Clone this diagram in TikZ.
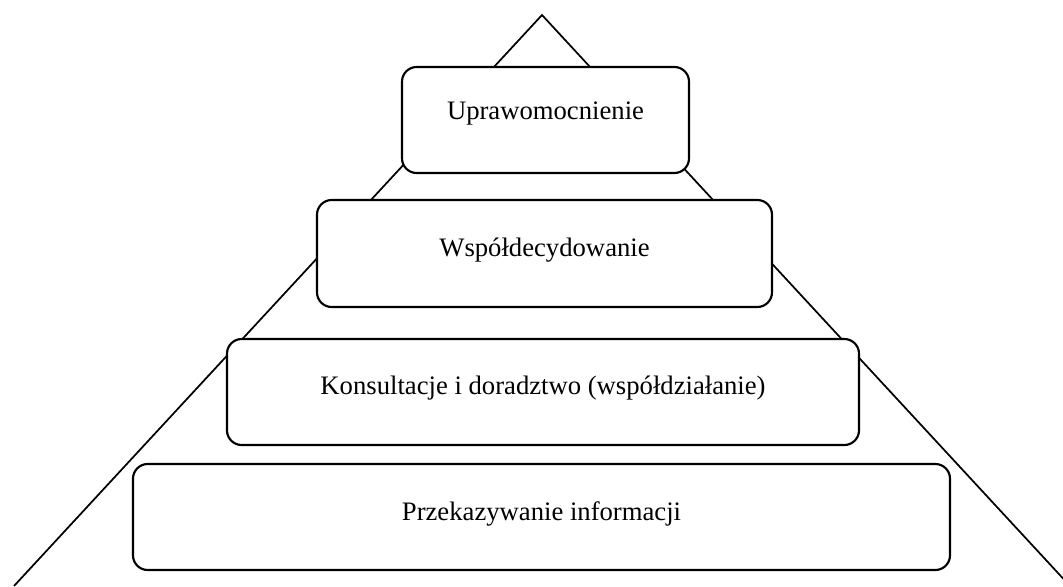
\documentclass[tikz,border=0pt]{standalone}
\usepackage{fontspec}
\setmainfont{Liberation Serif}
\begin{document}
\begin{tikzpicture}[x=0.75pt,y=-0.75pt,
  level/.style={draw,line width=1.6pt,rounded corners=11pt,fill=white},
  label/.style={font=\fontsize{20pt}{22pt}\selectfont,anchor=center}]
\useasboundingbox (0,0) rectangle (1063,586);
\begin{scope}
  \clip (0,0) rectangle (1063,586);
  % pyramid outline
  \coordinate (apex) at (542,15);
  \coordinate (bl) at (14,586);
  \coordinate (br) at (1070,586);
  \draw[line width=1.3pt,line join=miter] (bl) -- (apex) -- (br);
\end{scope}
% levels, top to bottom
\draw[level] (402,67) rectangle (689,173);
\draw[level] (317,200) rectangle (772,307);
\draw[level] (227,339) rectangle (859,445);
\draw[level] (133,464) rectangle (950,570);
\node[label] (t1) at (545.5,114) {Uprawomocnienie};
\node[label] (t2) at (544.5,250) {Współdecydowanie};
\node[label] (t3) at (543,388) {Konsultacje i doradztwo (współdziałanie)};
\node[label] (t4) at (541.5,514) {Przekazywanie informacji};
\end{tikzpicture}
\end{document}
